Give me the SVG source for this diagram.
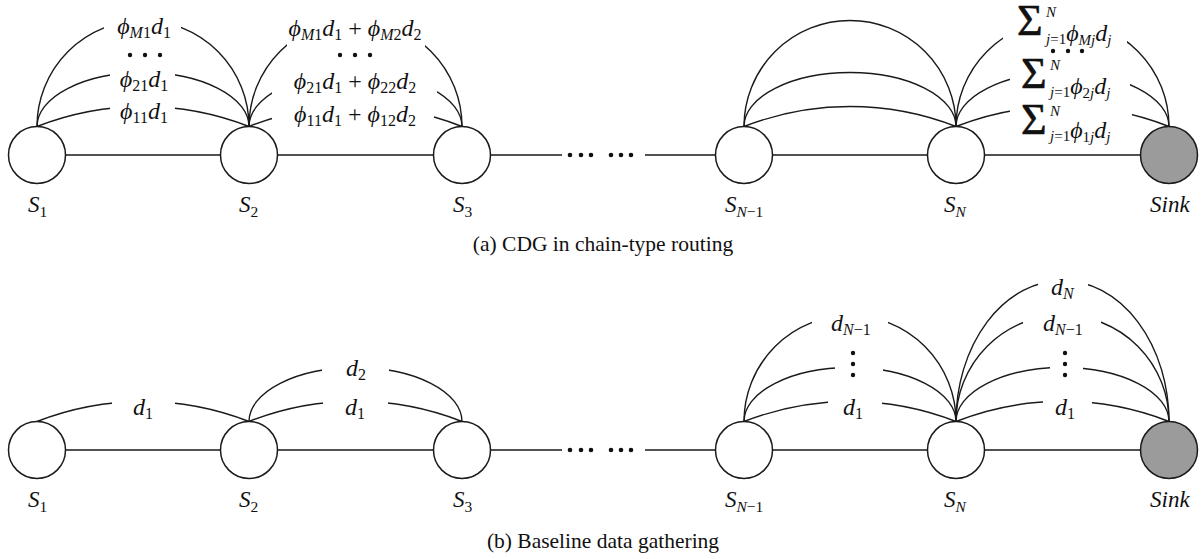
<svg xmlns="http://www.w3.org/2000/svg" width="1201" height="559" viewBox="0 0 1201 559">
  <style>
    .t { font-family: "Liberation Serif", "Times New Roman", serif; fill: #111; }
    .i { font-style: italic; }
    .m { font-size: 24px; }
    .s { font-size: 16px; }
    .n { font-size: 23px; }
    .ns { font-size: 15.5px; }
    .sig { font-size: 44px; stroke: #111; stroke-width: 0.6; }
    .sm { font-size: 15px; }
    .cap { font-family: "Liberation Serif", "Times New Roman", serif; font-size: 21.5px; fill: #111; text-anchor: middle; }
    .edge { fill: none; stroke: #1a1a1a; stroke-width: 1.4; }
    .node { fill: #fff; stroke: #1a1a1a; stroke-width: 1.5; }
    .sink { fill: #9b9b9b; stroke: #1a1a1a; stroke-width: 1.5; }
    .dot { fill: #111; }
  </style>
  <defs>
    <!-- openings in the arcs where their labels sit -->
    <mask id="gaps" maskUnits="userSpaceOnUse" x="0" y="0" width="1201" height="559">
      <rect x="0" y="0" width="1201" height="559" fill="#fff"/>
      <g fill="#000">
        <rect x="104" y="5" width="77" height="43"/>
        <rect x="110" y="60" width="65" height="32"/>
        <rect x="110" y="97" width="65" height="28"/>
        <rect x="287" y="5" width="138" height="47"/>
        <rect x="272" y="64" width="165" height="36"/>
        <rect x="272" y="102" width="162" height="22"/>
        <rect x="1003" y="5" width="124" height="45"/>
        <rect x="1010" y="60" width="120" height="40"/>
        <rect x="1010" y="102" width="122" height="23"/>
        <rect x="112" y="395" width="63" height="25"/>
        <rect x="322" y="355" width="67" height="37"/>
        <rect x="323" y="395" width="65" height="25"/>
        <rect x="812" y="300" width="76" height="40"/>
        <rect x="835" y="350" width="48" height="40"/>
        <rect x="828" y="395" width="54" height="25"/>
        <rect x="1038" y="270" width="50" height="30"/>
        <rect x="1023" y="305" width="78" height="35"/>
        <rect x="1050" y="350" width="33" height="40"/>
        <rect x="1043" y="395" width="49" height="25"/>
      </g>
    </mask>
  </defs>

  <!-- connectors -->
  <g id="connectors">
    <!-- chain links -->
    <g class="edge">
      <path d="M37 155H562M645 155H1169"/>
      <path d="M37 450H562M645 450H1169"/>
    </g>
    <g class="dot">
      <circle cx="570" cy="155" r="2.3"/><circle cx="581" cy="155" r="2.3"/><circle cx="591" cy="155" r="2.3"/>
      <circle cx="611" cy="155" r="2.3"/><circle cx="621" cy="155" r="2.3"/><circle cx="631" cy="155" r="2.3"/>
      <circle cx="570" cy="450" r="2.3"/><circle cx="581" cy="450" r="2.3"/><circle cx="591" cy="450" r="2.3"/>
      <circle cx="611" cy="450" r="2.3"/><circle cx="621" cy="450" r="2.3"/><circle cx="631" cy="450" r="2.3"/>
    </g>
    <!-- forwarding arcs -->
    <g class="edge" mask="url(#gaps)">
      <!-- (a) CDG -->
      <path d="M37 126.5A291 291 0 0 1 249 126.5"/>
      <path d="M37 126.5A106 54 0 0 1 249 126.5"/>
      <path d="M37 126.5A106 106 0 0 1 249 126.5"/>
      <path d="M249 126.5A291 291 0 0 1 462 126.5"/>
      <path d="M249 126.5A106.5 54 0 0 1 462 126.5"/>
      <path d="M249 126.5A106.5 106.5 0 0 1 462 126.5"/>
      <path d="M744 126.5A291 291 0 0 1 956 126.5"/>
      <path d="M744 126.5A106 54 0 0 1 956 126.5"/>
      <path d="M744 126.5A106 106 0 0 1 956 126.5"/>
      <path d="M956 126.5A291 291 0 0 1 1169 126.5"/>
      <path d="M956 126.5A106.5 54 0 0 1 1169 126.5"/>
      <path d="M956 126.5A106.5 106.5 0 0 1 1169 126.5"/>
      <!-- (b) baseline -->
      <path d="M37 421.5A291 291 0 0 1 249 421.5"/>
      <path d="M249 421.5A291 291 0 0 1 462 421.5"/>
      <path d="M249 421.5A106.5 54 0 0 1 462 421.5"/>
      <path d="M744 421.5A291 291 0 0 1 956 421.5"/>
      <path d="M744 421.5A106 54 0 0 1 956 421.5"/>
      <path d="M744 421.5A106 106 0 0 1 956 421.5"/>
      <path d="M956 421.5A291 291 0 0 1 1169 421.5"/>
      <path d="M956 421.5A106.5 54 0 0 1 1169 421.5"/>
      <path d="M956 421.5A106.5 106.5 0 0 1 1169 421.5"/>
      <path d="M956 421.5A106.5 141 0 0 1 1169 421.5"/>
    </g>

    <!-- arc labels, (a) -->
    <g class="t">
      <text class="m" x="144" y="34" text-anchor="middle"><tspan class="i">ϕ</tspan><tspan class="s i" dy="4">M</tspan><tspan class="s">1</tspan><tspan class="i" dy="-4">d</tspan><tspan class="s" dy="4">1</tspan></text>
      <text class="m" x="144" y="87" text-anchor="middle"><tspan class="i">ϕ</tspan><tspan class="s" dy="4">21</tspan><tspan class="i" dy="-4">d</tspan><tspan class="s" dy="4">1</tspan></text>
      <text class="m" x="144" y="119" text-anchor="middle"><tspan class="i">ϕ</tspan><tspan class="s" dy="4">11</tspan><tspan class="i" dy="-4">d</tspan><tspan class="s" dy="4">1</tspan></text>

      <text class="m" x="355" y="36" text-anchor="middle"><tspan class="i">ϕ</tspan><tspan class="s i" dy="4">M</tspan><tspan class="s">1</tspan><tspan class="i" dy="-4">d</tspan><tspan class="s" dy="4">1</tspan><tspan dy="-4"> + </tspan><tspan class="i">ϕ</tspan><tspan class="s i" dy="4">M</tspan><tspan class="s">2</tspan><tspan class="i" dy="-4">d</tspan><tspan class="s" dy="4">2</tspan></text>
      <text class="m" x="355" y="89" text-anchor="middle"><tspan class="i">ϕ</tspan><tspan class="s" dy="4">21</tspan><tspan class="i" dy="-4">d</tspan><tspan class="s" dy="4">1</tspan><tspan dy="-4"> + </tspan><tspan class="i">ϕ</tspan><tspan class="s" dy="4">22</tspan><tspan class="i" dy="-4">d</tspan><tspan class="s" dy="4">2</tspan></text>
      <text class="m" x="355" y="122" text-anchor="middle"><tspan class="i">ϕ</tspan><tspan class="s" dy="4">11</tspan><tspan class="i" dy="-4">d</tspan><tspan class="s" dy="4">1</tspan><tspan dy="-4"> + </tspan><tspan class="i">ϕ</tspan><tspan class="s" dy="4">12</tspan><tspan class="i" dy="-4">d</tspan><tspan class="s" dy="4">2</tspan></text>

      <!-- sums collected at the sink -->
      <text><tspan class="sig" x="1017" y="35">Σ</tspan><tspan class="sm i" x="1046" y="17">N</tspan><tspan class="sm i" x="1046" y="44">j</tspan><tspan class="sm">=1</tspan><tspan class="m i" y="41">ϕ</tspan><tspan class="sm i" y="45">Mj</tspan><tspan class="m i" y="41">d</tspan><tspan class="sm i" y="45">j</tspan></text>
      <text><tspan class="sig" x="1021" y="88">Σ</tspan><tspan class="sm i" x="1050" y="70">N</tspan><tspan class="sm i" x="1050" y="97">j</tspan><tspan class="sm">=1</tspan><tspan class="m i" y="94">ϕ</tspan><tspan class="sm" y="98">2</tspan><tspan class="sm i">j</tspan><tspan class="m i" y="94">d</tspan><tspan class="sm i" y="98">j</tspan></text>
      <text><tspan class="sig" x="1021" y="134">Σ</tspan><tspan class="sm i" x="1050" y="116">N</tspan><tspan class="sm i" x="1050" y="141">j</tspan><tspan class="sm">=1</tspan><tspan class="m i" y="138">ϕ</tspan><tspan class="sm" y="142">1</tspan><tspan class="sm i">j</tspan><tspan class="m i" y="138">d</tspan><tspan class="sm i" y="142">j</tspan></text>
    </g>
    <g class="dot">
      <circle cx="130" cy="55" r="2.2"/><circle cx="145" cy="55" r="2.2"/><circle cx="160" cy="55" r="2.2"/>
      <circle cx="340" cy="55" r="2.2"/><circle cx="355" cy="55" r="2.2"/><circle cx="370" cy="55" r="2.2"/>
      <circle cx="1053" cy="51" r="2.2"/><circle cx="1068" cy="51" r="2.2"/><circle cx="1082" cy="51" r="2.2"/>
    </g>

    <!-- arc labels, (b) -->
    <g class="t m">
      <text x="133" y="415"><tspan class="i">d</tspan><tspan class="s" dy="4">1</tspan></text>
      <text x="346" y="376"><tspan class="i">d</tspan><tspan class="s" dy="4">2</tspan></text>
      <text x="345" y="415"><tspan class="i">d</tspan><tspan class="s" dy="4">1</tspan></text>
      <text x="831" y="331"><tspan class="i">d</tspan><tspan class="s i" dy="4">N</tspan><tspan class="s">−1</tspan></text>
      <text x="843" y="415"><tspan class="i">d</tspan><tspan class="s" dy="4">1</tspan></text>
      <text x="1051" y="295"><tspan class="i">d</tspan><tspan class="s i" dy="4">N</tspan></text>
      <text x="1043" y="331"><tspan class="i">d</tspan><tspan class="s i" dy="4">N</tspan><tspan class="s">−1</tspan></text>
      <text x="1055" y="415"><tspan class="i">d</tspan><tspan class="s" dy="4">1</tspan></text>
    </g>
    <g class="dot">
      <circle cx="853" cy="353" r="2.2"/><circle cx="853" cy="364" r="2.2"/><circle cx="853" cy="375" r="2.2"/>
      <circle cx="1065" cy="353" r="2.2"/><circle cx="1065" cy="364" r="2.2"/><circle cx="1065" cy="375" r="2.2"/>
    </g>
  </g>

  <!-- (a) CDG in chain-type routing -->
  <g id="a-S1"><circle class="node" cx="37" cy="155" r="28.5"/><text class="t n" x="28" y="212"><tspan class="i">S</tspan><tspan class="ns" dy="5">1</tspan></text></g>
  <g id="a-S2"><circle class="node" cx="249" cy="155" r="28.5"/><text class="t n" x="239" y="212"><tspan class="i">S</tspan><tspan class="ns" dy="5">2</tspan></text></g>
  <g id="a-S3"><circle class="node" cx="462" cy="155" r="28.5"/><text class="t n" x="453" y="212"><tspan class="i">S</tspan><tspan class="ns" dy="5">3</tspan></text></g>
  <g id="a-SN-1"><circle class="node" cx="744" cy="155" r="28.5"/><text class="t n" x="725" y="212"><tspan class="i">S</tspan><tspan class="ns i" dy="5">N</tspan><tspan class="ns">−1</tspan></text></g>
  <g id="a-SN"><circle class="node" cx="956" cy="155" r="28.5"/><text class="t n" x="944" y="212"><tspan class="i">S</tspan><tspan class="ns i" dy="5">N</tspan></text></g>
  <g id="a-Sink"><circle class="sink" cx="1169" cy="155" r="28.5"/><text class="t n i" x="1150" y="212">Sink</text></g>
  <text class="cap" x="603" y="251">(a) CDG in chain-type routing</text>

  <!-- (b) Baseline data gathering -->
  <g id="b-S1"><circle class="node" cx="37" cy="450" r="28.5"/><text class="t n" x="28" y="507"><tspan class="i">S</tspan><tspan class="ns" dy="5">1</tspan></text></g>
  <g id="b-S2"><circle class="node" cx="249" cy="450" r="28.5"/><text class="t n" x="239" y="507"><tspan class="i">S</tspan><tspan class="ns" dy="5">2</tspan></text></g>
  <g id="b-S3"><circle class="node" cx="462" cy="450" r="28.5"/><text class="t n" x="453" y="507"><tspan class="i">S</tspan><tspan class="ns" dy="5">3</tspan></text></g>
  <g id="b-SN-1"><circle class="node" cx="744" cy="450" r="28.5"/><text class="t n" x="725" y="507"><tspan class="i">S</tspan><tspan class="ns i" dy="5">N</tspan><tspan class="ns">−1</tspan></text></g>
  <g id="b-SN"><circle class="node" cx="956" cy="450" r="28.5"/><text class="t n" x="944" y="507"><tspan class="i">S</tspan><tspan class="ns i" dy="5">N</tspan></text></g>
  <g id="b-Sink"><circle class="sink" cx="1169" cy="450" r="28.5"/><text class="t n i" x="1150" y="507">Sink</text></g>
  <text class="cap" x="603" y="548">(b) Baseline data gathering</text>
</svg>
